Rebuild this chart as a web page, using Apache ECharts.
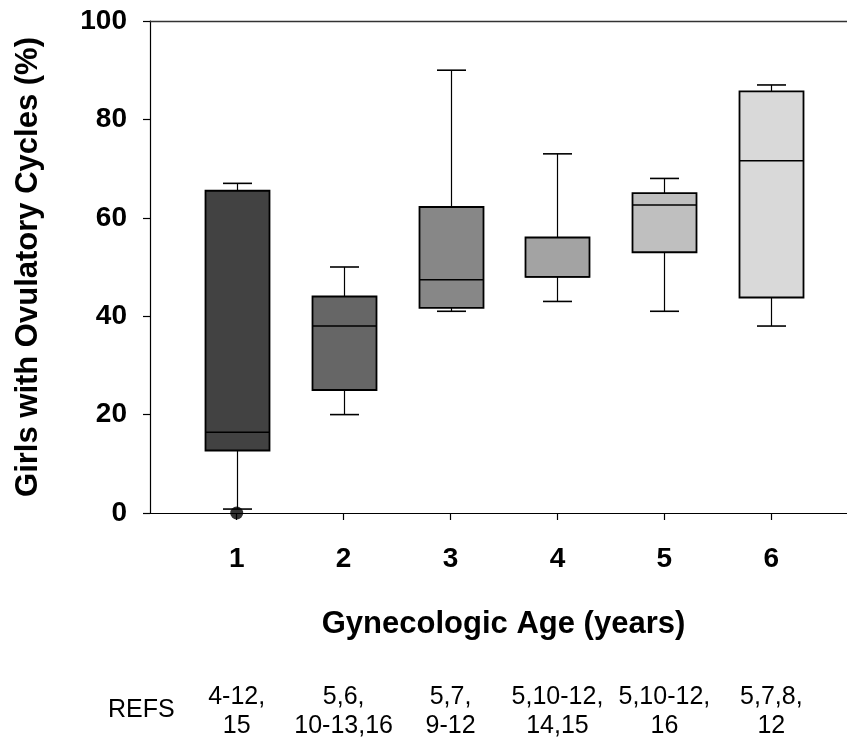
<!DOCTYPE html>
<html>
<head>
<meta charset="utf-8">
<script src="https://cdn.jsdelivr.net/npm/echarts@6/dist/echarts.min.js"></script>
<style>html,body{margin:0;padding:0;background:#fff}#c{width:847px;height:741px}</style>
</head>
<body>
<div id="c"></div>
<script>
// Gynecologic age categories
var categories = [1, 2, 3, 4, 5, 6];
// box statistics: [low whisker, Q1, median, Q3, high whisker]
var lowWhisker = [0.8, 20, 41, 43, 41, 38];
var q1 = [12.7, 25, 41.7, 48, 53, 43.8];
var median = [16.4, 38, 47.4, 48, 62.6, 71.6];
var q3 = [65.5, 44, 62.2, 56, 65, 85.7];
var highWhisker = [67, 50, 90, 73, 68, 87];
var boxColors = ['#424242', '#666666', '#878787', '#a3a3a3', '#bfbfbf', '#d9d9d9'];
var outliers = [[1, 0]];
var refs = ['4-12,\n15', '5,6,\n10-13,16', '5,7,\n9-12', '5,10-12,\n14,15', '5,10-12,\n16', '5,7,8,\n12'];
var yTicks = [0, 20, 40, 60, 80, 100];

var boxData = categories.map(function (c, i) {
  return [c, lowWhisker[i], q1[i], median[i], q3[i], highWhisker[i], i];
});

var BOX_W = 64, CAP_W = 29;

function renderBox(params, api) {
  var x = api.value(0);
  var pLow = api.coord([x, api.value(1)]);
  var pQ1 = api.coord([x, api.value(2)]);
  var pMed = api.coord([x, api.value(3)]);
  var pQ3 = api.coord([x, api.value(4)]);
  var pHigh = api.coord([x, api.value(5)]);
  var idx = api.value(6);
  var cx = Math.round(pQ1[0]) + 0.5;
  var hw = BOX_W / 2, hc = CAP_W / 2;
  var lineStyle = { stroke: '#000', lineWidth: 1.2 };
  return {
    type: 'group',
    children: [
      { type: 'line', shape: { x1: cx, y1: pHigh[1], x2: cx, y2: pQ3[1] }, style: lineStyle },
      { type: 'line', shape: { x1: cx, y1: pQ1[1], x2: cx, y2: pLow[1] }, style: lineStyle },
      { type: 'line', shape: { x1: cx - hc, y1: pHigh[1], x2: cx + hc, y2: pHigh[1] }, style: { stroke: '#000', lineWidth: 1.6 } },
      { type: 'line', shape: { x1: cx - hc, y1: pLow[1], x2: cx + hc, y2: pLow[1] }, style: { stroke: '#000', lineWidth: 1.6 } },
      { type: 'rect', shape: { x: cx - hw, y: pQ3[1], width: BOX_W, height: pQ1[1] - pQ3[1] },
        style: { fill: boxColors[idx], stroke: '#000', lineWidth: 1.8 } },
      { type: 'line', shape: { x1: cx - hw, y1: pMed[1], x2: cx + hw, y2: pMed[1] }, style: { stroke: '#000', lineWidth: 1.4 } }
    ]
  };
}

var chart = echarts.init(document.getElementById('c'), null, { renderer: 'canvas' });
var tickFont = { fontFamily: 'Liberation Sans, Arial, sans-serif', fontWeight: 'bold', fontSize: 28, color: '#000' };
chart.setOption({
  animation: false,
  backgroundColor: '#fff',
  grid: { left: 150, right: 0, top: 21, bottom: 225, containLabel: false },
  xAxis: [
    {
      type: 'value', position: 'bottom', min: 0.189, max: 6.708,
      splitLine: { show: false },
      axisLine: { show: true, lineStyle: { color: '#000', width: 1.2 } },
      axisTick: { show: true, inside: false, length: 7, customValues: categories, lineStyle: { color: '#000', width: 1.2 } },
      axisLabel: Object.assign({ customValues: categories, margin: 32, formatter: function (v) { return String(v); } }, tickFont),
      name: 'Gynecologic Age (years)', nameLocation: 'middle', nameGap: 96,
      nameTextStyle: { fontFamily: 'Liberation Sans, Arial, sans-serif', fontWeight: 'bold', fontSize: 31, color: '#000', padding: [0, 0, 0, 10] }
    },
    {
      type: 'value', position: 'bottom', min: 0.189, max: 6.708,
      splitLine: { show: false }, axisLine: { show: false }, axisTick: { show: false },
      axisLabel: {
        customValues: categories, margin: 170,
        fontFamily: 'Liberation Sans, Arial, sans-serif', fontSize: 25, lineHeight: 29, color: '#000',
        formatter: function (v) { return refs[categories.indexOf(Math.round(v))] || ''; }
      }
    },
    {
      type: 'value', position: 'top', min: 0.189, max: 6.708,
      splitLine: { show: false }, axisTick: { show: false }, axisLabel: { show: false },
      axisLine: { show: true, lineStyle: { color: '#333', width: 1.4 } }
    }
  ],
  yAxis: {
    type: 'value', min: 0, max: 100, interval: 20,
    splitLine: { show: false },
    axisLine: { show: true, lineStyle: { color: '#000', width: 1.2 } },
    axisTick: { show: true, inside: false, length: 7, lineStyle: { color: '#000', width: 1.2 } },
    axisLabel: Object.assign({ margin: 23 }, tickFont),
    name: 'Girls with Ovulatory Cycles (%)', nameLocation: 'middle', nameGap: 106,
    nameTextStyle: { fontFamily: 'Liberation Sans, Arial, sans-serif', fontWeight: 'bold', fontSize: 31, color: '#000' }
  },
  graphic: [
    { type: 'text', left: 108, top: 698, style: { text: 'REFS', font: '25px "Liberation Sans", Arial, sans-serif', fill: '#000' } }
  ],
  series: [
    { type: 'custom', renderItem: renderBox, data: boxData, encode: { x: 0, y: [1, 2, 3, 4, 5] }, z: 2 },
    { type: 'scatter', data: outliers, symbol: 'circle', symbolSize: 13, itemStyle: { color: '#000' }, z: 5 }
  ]
});
</script>
</body>
</html>
